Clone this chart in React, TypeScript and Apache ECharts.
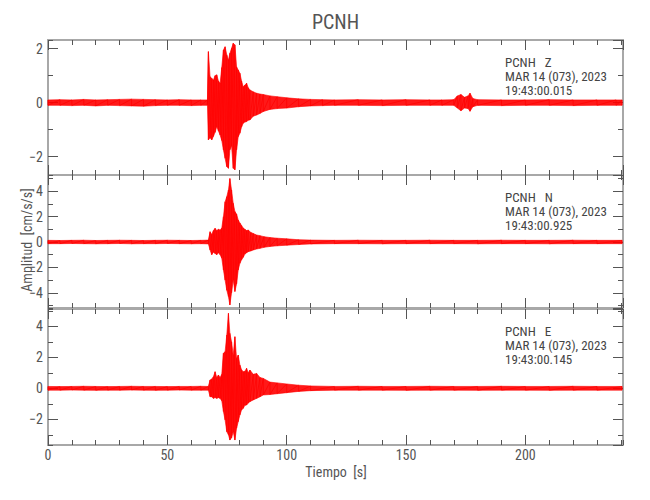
import React, { useEffect, useRef } from 'react';
import * as echarts from 'echarts';

// ---- data ----
const stationName = 'PCNH';
const channels = ['Z', 'N', 'E'];
const dateLabel = 'MAR 14 (073), 2023';
const startTimes = ['19:43:00.015', '19:43:00.925', '19:43:00.145'];
const xTitle = 'Tiempo  [s]';
const yTitle = 'Amplitud  [cm/s/s]';
const timeRange = [0, 240.9];
const ampRanges = [[-2.68, 2.32], [-5.2, 5.28], [-3.66, 5.12]];

// each row: [time s, upper peak, lower peak]
const zTrace = [
  [0, 0.1, -0.1], [5, 0.11, -0.1], [10, 0.1, -0.11], [15, 0.12, -0.1], [20, 0.1, -0.12], [25, 0.11, -0.1],
  [30, 0.12, -0.11], [35, 0.13, -0.12], [40, 0.12, -0.13], [45, 0.11, -0.11], [50, 0.1, -0.1], [55, 0.11, -0.1],
  [60, 0.1, -0.11], [64, 0.1, -0.1], [66.8, 0.1, -0.1],
  [67.2, 1.89, -1.38], [67.9, 0.96, -1.3], [68.6, 0.9, -1.38], [69.3, 0.84, -1.25], [70.0, 1.0, -1.1],
  [70.7, 1.03, -0.89], [71.4, 0.8, -1.05], [72.1, 0.72, -1.2], [72.8, 1.3, -1.4], [73.5, 1.95, -1.75],
  [74.2, 2.07, -2.06], [74.9, 1.77, -2.37], [75.6, 1.58, -2.43], [76.2, 1.83, -1.75], [76.9, 2.01, -1.6],
  [77.6, 2.2, -2.43], [78.3, 2.14, -2.49], [79.0, 1.33, -1.75], [79.7, 1.21, -1.26], [80.4, 1.09, -1.13],
  [81.1, 0.8, -0.9], [81.8, 0.59, -0.76], [82.5, 0.65, -0.72], [83.2, 0.72, -0.7], [83.9, 0.55, -0.65],
  [84.6, 0.47, -0.64], [86.0, 0.4, -0.5], [87.4, 0.35, -0.46], [88.8, 0.32, -0.4], [90.2, 0.3, -0.33],
  [93, 0.25, -0.25], [96, 0.22, -0.22], [100, 0.18, -0.2], [105, 0.14, -0.15], [110, 0.12, -0.12],
  [115, 0.11, -0.11], [120, 0.1, -0.1], [130, 0.11, -0.1], [140, 0.1, -0.11], [150, 0.11, -0.1],
  [160, 0.1, -0.1], [165, 0.1, -0.1], [170, 0.11, -0.1], [171.5, 0.25, -0.2], [173, 0.3, -0.3],
  [174.5, 0.2, -0.2], [176, 0.25, -0.22], [176.8, 0.35, -0.32], [178, 0.15, -0.15], [180, 0.11, -0.1],
  [190, 0.1, -0.11], [200, 0.1, -0.1], [210, 0.11, -0.1], [220, 0.1, -0.11], [230, 0.1, -0.1],
  [238, 0.1, -0.1], [240.5, 0.1, -0.1],
];

const nTrace = [
  [0, 0.13, -0.13], [5, 0.12, -0.13], [10, 0.13, -0.12], [15, 0.14, -0.13], [20, 0.12, -0.14], [25, 0.13, -0.13],
  [30, 0.14, -0.12], [35, 0.13, -0.14], [40, 0.12, -0.13], [45, 0.13, -0.13], [50, 0.14, -0.12], [55, 0.13, -0.13],
  [60, 0.12, -0.14], [64, 0.13, -0.13], [67.2, 0.15, -0.15],
  [67.9, 0.81, -0.63], [68.6, 0.6, -1.0], [69.3, 0.9, -0.8], [70.0, 1.08, -0.9], [70.7, 0.9, -1.0],
  [71.4, 1.0, -0.85], [72.1, 0.95, -1.0], [72.8, 1.1, -1.27], [73.5, 2.0, -2.2], [74.2, 3.17, -3.0],
  [74.9, 3.57, -3.8], [75.6, 4.1, -4.3], [76.2, 5.0, -4.96], [76.9, 4.1, -4.0], [77.6, 3.05, -3.0],
  [78.3, 2.4, -3.9], [79.0, 2.2, -3.3], [79.7, 1.73, -2.2], [80.4, 1.5, -1.68], [81.1, 1.3, -1.4],
  [81.8, 1.1, -1.2], [82.5, 1.0, -0.95], [83.2, 0.9, -0.85], [83.9, 0.94, -0.76], [85, 0.75, -0.7],
  [86, 0.67, -0.63], [87.4, 0.55, -0.55], [88.8, 0.5, -0.5], [90.5, 0.42, -0.42], [93, 0.35, -0.35],
  [96, 0.3, -0.3], [100, 0.25, -0.25], [105, 0.18, -0.2], [110, 0.15, -0.15], [120, 0.13, -0.13],
  [130, 0.14, -0.13], [140, 0.13, -0.14], [150, 0.13, -0.13], [160, 0.14, -0.13], [170, 0.13, -0.13],
  [180, 0.13, -0.14], [190, 0.14, -0.13], [200, 0.13, -0.13], [210, 0.13, -0.14], [220, 0.14, -0.13],
  [230, 0.13, -0.13], [240.5, 0.13, -0.13],
];

const eTrace = [
  [0, 0.12, -0.12], [5, 0.11, -0.12], [10, 0.12, -0.11], [15, 0.13, -0.12], [20, 0.12, -0.13], [25, 0.11, -0.12],
  [30, 0.12, -0.12], [35, 0.13, -0.11], [40, 0.12, -0.12], [45, 0.12, -0.13], [50, 0.11, -0.12], [55, 0.12, -0.11],
  [60, 0.12, -0.12], [64, 0.13, -0.12], [67.2, 0.12, -0.12],
  [67.9, 0.54, -0.54], [68.6, 0.6, -0.55], [69.3, 0.75, -0.65], [70.0, 1.07, -0.6], [70.7, 0.7, -0.65],
  [71.4, 0.86, -0.6], [72.1, 0.7, -0.65], [72.8, 0.9, -0.8], [73.5, 2.26, -1.5], [74.2, 2.37, -2.04],
  [74.9, 3.44, -2.8], [75.6, 4.84, -3.0], [76.2, 3.55, -3.34], [76.9, 3.0, -3.2], [77.6, 2.15, -2.8],
  [78.3, 3.33, -3.34], [79.0, 1.93, -2.58], [79.7, 2.15, -2.15], [80.4, 1.5, -1.72], [81.1, 1.2, -1.4],
  [81.8, 1.07, -1.29], [82.5, 1.1, -1.1], [83.2, 1.29, -1.08], [83.9, 1.0, -0.95], [84.6, 1.18, -0.86],
  [86, 0.9, -0.75], [87.4, 0.96, -0.65], [88.8, 0.7, -0.55], [90.2, 0.64, -0.43], [93, 0.4, -0.4],
  [96, 0.35, -0.35], [100, 0.28, -0.28], [105, 0.2, -0.2], [110, 0.15, -0.15], [120, 0.12, -0.12],
  [130, 0.13, -0.12], [140, 0.12, -0.12], [150, 0.12, -0.13], [160, 0.13, -0.12], [170, 0.12, -0.12],
  [180, 0.12, -0.13], [190, 0.13, -0.12], [200, 0.12, -0.12], [210, 0.12, -0.13], [220, 0.13, -0.12],
  [230, 0.12, -0.12], [240.5, 0.12, -0.12],
];

const traces = [zTrace, nTrace, eTrace];

// ---- layout / style ----
const FONT = "'Liberation Sans Narrow', 'Roboto Condensed', Roboto, sans-serif";
const gridBoxes = [
  { top: 40, height: 135 },
  { top: 175, height: 133 },
  { top: 309, height: 136 },
];
const yMajorSplit = [3, 5, 4];
const yMinorSplit = [5, 10, 9];
const TRACE_COLOR = '#ff0000';
const FRAME = '#a8a8a8';
const TICK = '#555';
const LABEL = '#555';

const fmtNum = (v: number) => {
  if (Math.abs(v - Math.round(v)) > 1e-6) return '';
  return String(Math.round(v)).replace('-', '\u2212');
};

function buildOption() {
  const grid: any[] = [];
  const xAxis: any[] = [];
  const yAxis: any[] = [];
  const series: any[] = [];
  const graphic: any[] = [];

  gridBoxes.forEach((b, g) => {
    grid.push({ left: 48, right: 27, top: b.top, height: b.height, show: true, borderColor: FRAME, borderWidth: 2, backgroundColor: 'transparent' });
    const isLast = g === gridBoxes.length - 1;
    const xBase = { type: 'value', gridIndex: g, min: timeRange[0], max: timeRange[1], splitLine: { show: false }, axisLine: { show: false, onZero: false } };
    const tick = (len: number) => ({ show: true, inside: true, length: len, lineStyle: { color: TICK, width: 1 } });
    xAxis.push({
      ...xBase, position: 'bottom', interval: 50,
      axisTick: tick(10),
      axisLabel: { show: isLast, margin: 3, fontSize: 14, color: LABEL, fontFamily: FONT, showMaxLabel: false, formatter: (v: number) => fmtNum(v) },
    });
    xAxis.push({ ...xBase, position: 'bottom', interval: 10, axisTick: tick(5), axisLabel: { show: false } });
    xAxis.push({ ...xBase, position: 'top', interval: 50, axisTick: tick(10), axisLabel: { show: false } });
    xAxis.push({ ...xBase, position: 'top', interval: 10, axisTick: tick(5), axisLabel: { show: false } });

    const [ymin, ymax] = ampRanges[g];
    const yBase = { type: 'value', gridIndex: g, min: ymin, max: ymax, splitLine: { show: false }, axisLine: { show: false, onZero: false } };
    yAxis.push({
      ...yBase, position: 'left', splitNumber: yMajorSplit[g], minInterval: 2, maxInterval: 2,
      axisTick: tick(10),
      axisLabel: { show: true, margin: 5, fontSize: 14, color: LABEL, fontFamily: FONT, showMinLabel: false, showMaxLabel: false, formatter: (v: number) => fmtNum(v) },
    });
    yAxis.push({ ...yBase, position: 'left', splitNumber: yMinorSplit[g], minInterval: 1, maxInterval: 1, axisTick: tick(5), axisLabel: { show: false } });
    yAxis.push({ ...yBase, position: 'right', splitNumber: yMajorSplit[g], minInterval: 2, maxInterval: 2, axisTick: tick(10), axisLabel: { show: false } });
    yAxis.push({ ...yBase, position: 'right', splitNumber: yMinorSplit[g], minInterval: 1, maxInterval: 1, axisTick: tick(5), axisLabel: { show: false } });

    const rows = traces[g];
    // filled envelope band between the upper and lower peaks
    series.push({
      type: 'custom',
      name: channels[g] + ' envelope',
      xAxisIndex: g * 4,
      yAxisIndex: g * 4,
      data: [[rows[0][0], rows[0][1]]],
      silent: true,
      z: 2,
      renderItem: (_p: any, api: any) => {
        const pts: number[][] = [];
        for (let i = 0; i < rows.length; i++) pts.push(api.coord([rows[i][0], rows[i][1]]));
        for (let i = rows.length - 1; i >= 0; i--) pts.push(api.coord([rows[i][0], rows[i][2]]));
        return { type: 'polygon', shape: { points: pts }, style: { fill: 'rgba(255,0,0,0.9)', stroke: TRACE_COLOR, lineWidth: 0.6 } };
      },
    });
    // oscillating trace through the same peaks
    const zig: number[][] = [];
    rows.forEach((r) => { zig.push([r[0], r[1]]); zig.push([r[0], r[2]]); });
    series.push({
      type: 'line',
      name: channels[g],
      xAxisIndex: g * 4,
      yAxisIndex: g * 4,
      data: zig,
      showSymbol: false,
      silent: true,
      z: 3,
      lineStyle: { color: TRACE_COLOR, width: 0.7 },
    });

    // station annotation
    const ty = b.top + 22;
    const lines = [stationName + '   ' + channels[g], dateLabel, startTimes[g]];
    lines.forEach((t, k) => {
      graphic.push({
        type: 'text', x: 505, y: ty + k * 14.3, z: 10,
        style: { text: t, fontSize: 13, fill: '#444', fontFamily: FONT, verticalAlign: 'middle' },
      });
    });
  });

  graphic.push({
    type: 'text', x: 335.5, y: 22, z: 10,
    style: { text: stationName, fontSize: 20, fill: '#555', fontFamily: FONT, align: 'center', verticalAlign: 'middle' },
  });
  graphic.push({
    type: 'text', x: 336, y: 472, z: 10,
    style: { text: xTitle, fontSize: 14, fill: LABEL, fontFamily: FONT, align: 'center', verticalAlign: 'middle' },
  });
  graphic.push({
    type: 'text', x: 27, y: 240, rotation: Math.PI / 2, z: 10,
    style: { text: yTitle, fontSize: 14, fill: LABEL, fontFamily: FONT, align: 'center', verticalAlign: 'middle' },
  });

  return {
    animation: false,
    backgroundColor: '#ffffff',
    grid, xAxis, yAxis, series, graphic,
  };
}

export default function App() {
  const ref = useRef<HTMLDivElement>(null);
  useEffect(() => {
    if (!ref.current) return;
    const chart = echarts.init(ref.current, undefined, { renderer: 'svg' });
    chart.setOption(buildOption() as any);
    return () => chart.dispose();
  }, []);
  return <div ref={ref} style={{ position: 'absolute', left: 0, top: 0, width: 650, height: 500 }} />;
}
